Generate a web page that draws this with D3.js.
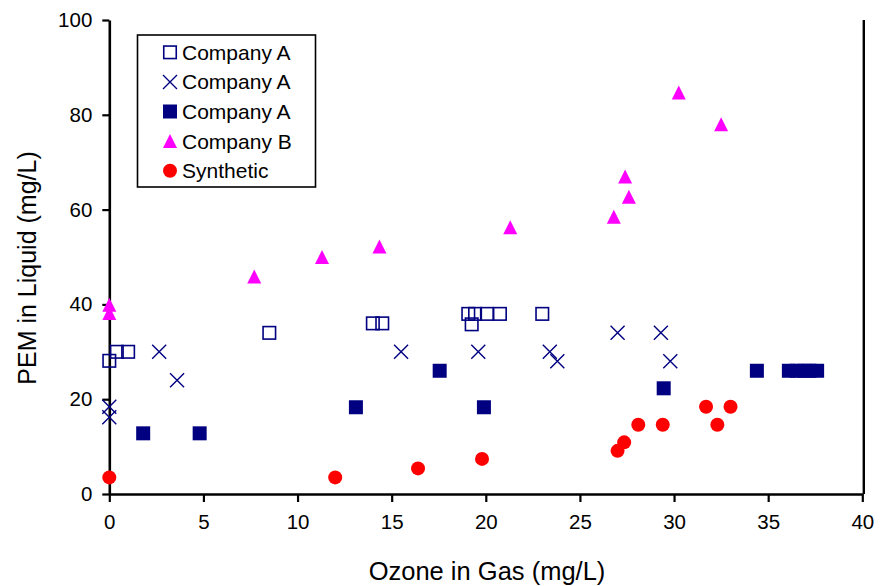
<!DOCTYPE html>
<html>
<head>
<meta charset="utf-8">
<script src="https://cdn.jsdelivr.net/npm/d3@7/dist/d3.min.js"></script>
<style>
  html, body { margin: 0; padding: 0; background: #fff; }
  svg { display: block; font-family: "Liberation Sans", Arial, sans-serif; }
</style>
</head>
<body>
<svg id="chart" width="882" height="586"></svg>
<script>
// ---- Data ----
const xTicks = [0, 5, 10, 15, 20, 25, 30, 35, 40];
const yTicks = [0, 20, 40, 60, 80, 100];

const openSqX = [0, 0.4, 1.0, 8.5, 14.0, 14.5, 19.07, 19.43, 20.06, 20.75, 19.25, 23.0];
const openSqY = [28.1, 30, 30, 34, 36, 36, 38, 38, 38, 38, 35.8, 38];

const crossX = [0, 0, 2.65, 3.6, 15.5, 19.6, 23.4, 23.8, 27.0, 29.3, 29.8];
const crossY = [18.4, 16.2, 30, 24, 30, 30, 30, 28, 34, 34, 28];

const filledX = [1.8, 4.8, 13.1, 17.55, 19.9, 29.45, 34.4, 36.1, 36.5, 36.9, 37.2, 37.6];
const filledY = [12.8, 12.8, 18.3, 26, 18.3, 22.3, 26, 26, 26, 26, 26, 26];

const triX = [0, 0, 7.7, 11.3, 14.35, 21.3, 26.8, 27.4, 27.6, 30.25, 32.5];
const triY = [39.9, 38.2, 45.9, 50, 52.2, 56.3, 58.5, 67, 62.7, 84.7, 78];

const circX = [0, 12.0, 16.4, 19.8, 27.0, 27.35, 28.1, 29.4, 31.7, 32.3, 33.0];
const circY = [3.5, 3.5, 5.4, 7.4, 9.1, 10.9, 14.6, 14.6, 18.4, 14.6, 18.4];

const seriesNames = ["Company A", "Company A", "Company A", "Company B", "Synthetic"];
const seriesKinds = ["openSquare", "cross", "filledSquare", "triangle", "circle"];
const seriesColors = ["#000080", "#000080", "#000080", "#FF00FF", "#FF0000"];

const xTitle = "Ozone in Gas (mg/L)";
const yTitle = "PEM in Liquid (mg/L)";

// ---- Build ----
const svg = d3.select("#chart");
const pLeft = 109.3, pRight = 862.3, pTop = 20, pBottom = 494;

const x = d3.scaleLinear().domain([0, 40]).range([pLeft, pRight]);
const y = d3.scaleLinear().domain([0, 100]).range([pBottom, pTop]);

const series = [
  {xs: openSqX, ys: openSqY},
  {xs: crossX, ys: crossY},
  {xs: filledX, ys: filledY},
  {xs: triX, ys: triY},
  {xs: circX, ys: circY}
].map((s, i) => ({
  name: seriesNames[i], kind: seriesKinds[i], color: seriesColors[i],
  pts: s.xs.map((v, j) => [v, s.ys[j]])
}));

function drawMarker(g, kind, color) {
  const h = 7;
  if (kind === "openSquare") {
    g.append("rect").attr("x", -h + 0.75).attr("y", -h + 0.75)
      .attr("width", 2 * h - 1.5).attr("height", 2 * h - 1.5)
      .attr("fill", "none").attr("stroke", color).attr("stroke-width", 1.6);
  } else if (kind === "cross") {
    g.append("path").attr("d", `M${-h},${-h}L${h},${h}M${-h},${h}L${h},${-h}`)
      .attr("stroke", color).attr("stroke-width", 1.4).attr("fill", "none");
  } else if (kind === "filledSquare") {
    g.append("rect").attr("x", -h).attr("y", -h).attr("width", 2 * h).attr("height", 2 * h)
      .attr("fill", color);
  } else if (kind === "triangle") {
    g.append("path").attr("d", `M0,${-h}L${h},${h}L${-h},${h}Z`).attr("fill", color);
  } else if (kind === "circle") {
    g.append("circle").attr("r", h).attr("fill", color);
  }
}

// Axes
const xAxis = svg.append("g").attr("transform", `translate(0,${pBottom})`)
  .call(d3.axisBottom(x).tickValues(xTicks).tickSize(8).tickSizeOuter(0).tickPadding(12));
const yAxis = svg.append("g").attr("transform", `translate(${pLeft},0)`)
  .call(d3.axisLeft(y).tickValues(yTicks).tickSize(7).tickSizeOuter(0).tickPadding(10));

[xAxis, yAxis].forEach(a => {
  a.select(".domain").attr("stroke", "#000").attr("stroke-width", 2.6);
  a.selectAll(".tick line").attr("stroke", "#000").attr("stroke-width", 2.2);
  a.selectAll(".tick text").attr("fill", "#000").style("font-size", "20.5px")
    .style("font-family", '"Liberation Sans", Arial, sans-serif');
});

// right border
svg.append("line").attr("x1", x(40) + 1.5).attr("x2", x(40) + 1.5)
  .attr("y1", y(100)).attr("y2", y(0)).attr("stroke", "#000").attr("stroke-width", 2.4);

// Points
series.forEach(s => {
  const g = svg.append("g");
  s.pts.forEach(p => {
    const m = g.append("g").attr("transform", `translate(${x(p[0])},${y(p[1])})`);
    drawMarker(m, s.kind, s.color);
  });
});

// Axis titles
svg.append("text").attr("x", 487).attr("y", 580)
  .attr("text-anchor", "middle").style("font-size", "25.5px").text(xTitle);
svg.append("text").attr("transform", `translate(36,268) rotate(-90)`)
  .attr("text-anchor", "middle").style("font-size", "25px").text(yTitle);

// Legend
const lg = svg.append("g");
lg.append("rect").attr("x", 137.5).attr("y", 35).attr("width", 178).attr("height", 152)
  .attr("fill", "#fff").attr("stroke", "#000").attr("stroke-width", 1.6);
series.forEach((s, i) => {
  const cy = 52.3 + i * 29.6;
  const m = lg.append("g").attr("transform", `translate(170,${cy})`);
  drawMarker(m, s.kind, s.color);
  lg.append("text").attr("x", 182).attr("y", cy).attr("dy", "0.36em")
    .style("font-size", "21px").text(s.name);
});
</script>
</body>
</html>
